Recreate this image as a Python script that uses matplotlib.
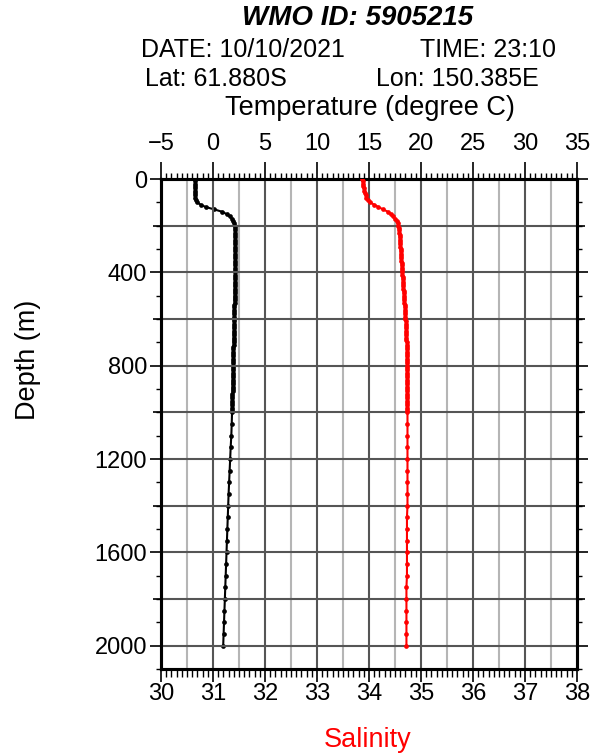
import numpy as np
import matplotlib
matplotlib.use("Agg")
import matplotlib.pyplot as plt
from matplotlib.ticker import MultipleLocator, FixedLocator

plt.rcParams['font.family'] = ['Liberation Sans', 'DejaVu Sans']

# ---------------- data ----------------
title = "WMO ID: 5905215"
date_txt = "DATE: 10/10/2021"
time_txt = "TIME: 23:10"
lat_txt = "Lat: 61.880S"
lon_txt = "Lon: 150.385E"

depth_upper = list(range(0, 1001, 10))
temp_upper = [
    -1.72, -1.72, -1.73, -1.73, -1.73, -1.73, -1.72, -1.72, -1.70, -1.65,
    -1.50, -1.20, -0.70, 0.10, 0.85, 1.30, 1.60, 1.82, 1.95, 2.03,
    2.08, 2.11, 2.13, 2.14, 2.15, 2.15, 2.16, 2.16, 2.16, 2.16,
    2.16, 2.16, 2.16, 2.15, 2.15, 2.15, 2.15, 2.14, 2.14, 2.14,
    2.13, 2.13, 2.12, 2.12, 2.11, 2.11, 2.10, 2.10, 2.09, 2.09,
    2.08, 2.08, 2.07, 2.07, 2.06, 2.06, 2.05, 2.05, 2.04, 2.04,
    2.03, 2.03, 2.02, 2.02, 2.01, 2.01, 2.00, 2.00, 1.99, 1.99,
    1.98, 1.98, 1.97, 1.97, 1.96, 1.96, 1.95, 1.95, 1.94, 1.94,
    1.93, 1.93, 1.92, 1.92, 1.91, 1.91, 1.90, 1.90, 1.89, 1.89,
    1.88, 1.88, 1.87, 1.87, 1.86, 1.86, 1.85, 1.85, 1.84, 1.84,
    1.83,
]
sal_upper = [
    33.87, 33.88, 33.88, 33.89, 33.90, 33.91, 33.92, 33.94, 33.95, 33.98,
    34.02, 34.10, 34.18, 34.27, 34.36, 34.42, 34.46, 34.50, 34.53, 34.55,
    34.56, 34.57, 34.58, 34.58, 34.59, 34.59, 34.59, 34.60, 34.60, 34.60,
    34.61, 34.61, 34.61, 34.62, 34.62, 34.62, 34.63, 34.63, 34.63, 34.64,
    34.64, 34.64, 34.65, 34.65, 34.65, 34.66, 34.66, 34.66, 34.67, 34.67,
    34.67, 34.68, 34.68, 34.68, 34.69, 34.69, 34.69, 34.70, 34.70, 34.70,
    34.70, 34.71, 34.71, 34.71, 34.71, 34.72, 34.72, 34.72, 34.72, 34.72,
    34.73, 34.73, 34.73, 34.73, 34.73, 34.73, 34.73, 34.73, 34.73, 34.73,
    34.73, 34.73, 34.73, 34.73, 34.73, 34.74, 34.74, 34.74, 34.74, 34.74,
    34.74, 34.74, 34.74, 34.74, 34.74, 34.74, 34.74, 34.74, 34.74, 34.74,
    34.74,
]
depth_deep = list(range(1050, 2001, 50))
temp_deep = [1.80, 1.76, 1.70, 1.65, 1.60, 1.55, 1.50, 1.46, 1.42, 1.38,
             1.34, 1.30, 1.26, 1.22, 1.18, 1.14, 1.10, 1.06, 1.02, 0.98]
sal_deep = [34.74, 34.74, 34.74, 34.74, 34.74, 34.74, 34.74, 34.74, 34.73, 34.73,
            34.73, 34.73, 34.73, 34.73, 34.72, 34.72, 34.72, 34.72, 34.72, 34.72]

depth = depth_upper + depth_deep
temp = temp_upper + temp_deep
sal = sal_upper + sal_deep

sal_ticks = [30, 31, 32, 33, 34, 35, 36, 37, 38]
temp_ticks = [-5, 0, 5, 10, 15, 20, 25, 30, 35]
depth_ticks = [0, 400, 800, 1200, 1600, 2000]

# ---------------- figure ----------------
W, H = 598, 756
fig = plt.figure(figsize=(W / 100, H / 100), dpi=100)
L, R, T, B = 161, 577, 179, 669
ax = fig.add_axes([L / W, 1 - B / H, (R - L) / W, (B - T) / H])
ax.set_xlim(30, 38)
ax.set_ylim(2100, 0)

# grid lines
for s in np.arange(30.5, 38.0, 0.5):
    col = '#555555' if abs(s - round(s)) < 1e-6 else '#b5b5b5'
    ax.axvline(s, color=col, lw=1.5, zorder=1)
for d in range(200, 2100, 200):
    ax.axhline(d, color='#555555', lw=1.5, zorder=1)

# temperature on top axis
axt = ax.twiny()
axt.set_xlim(-5, 35)
axt.plot(temp, depth, color='black', lw=1.5, marker='o', ms=3.4, mew=0, zorder=3)
ax.plot(sal, depth, color='red', lw=1.5, marker='o', ms=3.4, mew=0, zorder=3)
ax.set_zorder(axt.get_zorder() + 1)
ax.patch.set_visible(False)

for a in (ax, axt):
    for sp in a.spines.values():
        sp.set_linewidth(2.2)

TICK_FS = 17
LAB_FS = 19.5

# bottom axis (salinity)
ax.xaxis.set_major_locator(FixedLocator(sal_ticks))
ax.xaxis.set_minor_locator(MultipleLocator(0.1))
ax.tick_params(axis='x', which='major', direction='out', length=9, width=1.2,
               labelsize=TICK_FS, pad=1, top=False)
ax.tick_params(axis='x', which='minor', direction='out', length=6, width=1.0, top=False)
ax.set_xlabel('Salinity', color='red', fontsize=LAB_FS)
ax.xaxis.set_label_coords((368 - L) / (R - L), (B - 740) / (B - T))
ax.xaxis.label.set_va('center')

# top axis (temperature)
axt.xaxis.set_major_locator(FixedLocator(temp_ticks))
axt.xaxis.set_minor_locator(MultipleLocator(0.5))
axt.set_xticklabels(['\u22125'] + [str(t) for t in temp_ticks[1:]])
axt.tick_params(axis='x', which='major', direction='out', length=12, width=1.2,
                labelsize=TICK_FS, pad=5.5)
axt.tick_params(axis='x', which='minor', direction='out', length=4.5, width=1.0)
axt.set_xlabel('Temperature (degree C)', fontsize=LAB_FS)
axt.xaxis.set_label_coords((370 - L) / (R - L), (B - 108) / (B - T))
axt.xaxis.label.set_va('center')

# depth axis
ax.yaxis.set_major_locator(FixedLocator(depth_ticks))
ax.yaxis.set_minor_locator(MultipleLocator(100))
ax.tick_params(axis='y', which='major', direction='out', length=8, width=1.2,
               labelsize=TICK_FS, pad=2, right=True)
ax.tick_params(axis='y', which='minor', direction='out', length=3.5, width=1.0, right=True)
ax.set_ylabel('Depth (m)', fontsize=LAB_FS)
ax.yaxis.set_label_coords((28 - L) / (R - L), (B - 360) / (B - T))
ax.yaxis.label.set_va('center')
for side in ('left', 'right'):
    sec = ax.secondary_yaxis(side)
    sec.yaxis.set_major_locator(FixedLocator(list(range(200, 2100, 400))))
    sec.tick_params(axis='y', direction='out', length=6, width=1.2, labelleft=False,
                    labelright=False)
    sec.spines[side].set_visible(False)

# header texts
fig.text(358 / W, 1 - 18 / H, title, ha='center', va='center', fontsize=20,
         fontweight='bold', fontstyle='italic')
HDR_FS = 18
fig.text(243 / W, 1 - 50 / H, date_txt, ha='center', va='center', fontsize=HDR_FS)
fig.text(488 / W, 1 - 50 / H, time_txt, ha='center', va='center', fontsize=HDR_FS)
fig.text(216 / W, 1 - 78.5 / H, lat_txt, ha='center', va='center', fontsize=HDR_FS)
fig.text(457 / W, 1 - 78.5 / H, lon_txt, ha='center', va='center', fontsize=HDR_FS)

fig.savefig('out.png', dpi=100)
